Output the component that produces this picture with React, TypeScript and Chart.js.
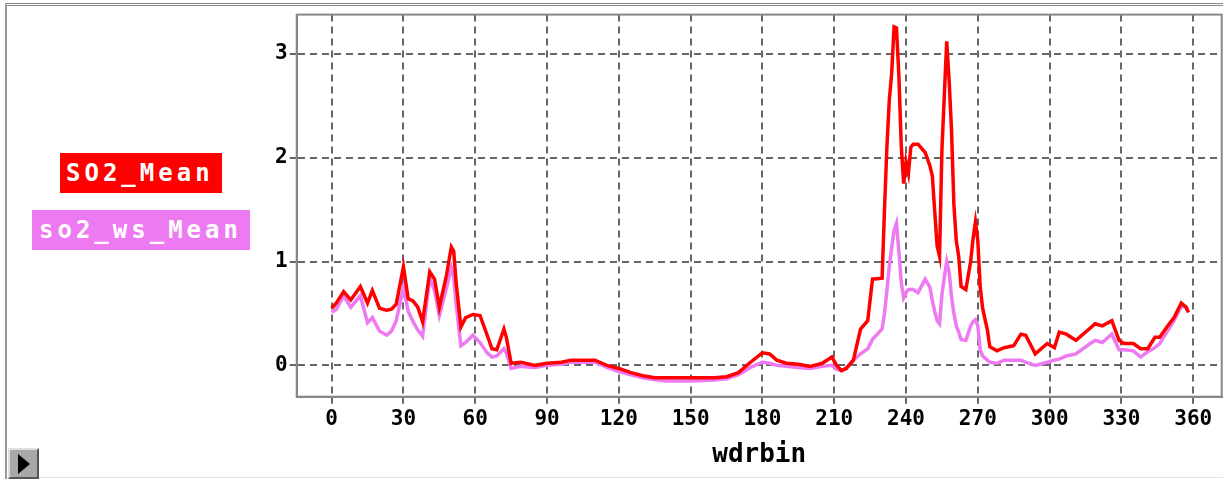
import React, { useEffect, useRef } from "react";
import { Chart, registerables } from "chart.js";

Chart.register(...registerables);

const wdrbin = [0,2,5,8,12,15,17,20,23,25,27,30,32,34,36,38,41,43,45,48,50,51,52,54,56,59,62,65,67,69,72,73,75,79,85,90,96,100,110,115,120,125,130,135,140,150,160,165,170,175,180,183,186,190,195,200,205,209,211,213,215,218,221,224,226,230,231,232,233,234,235,236,237,238,239,240,241,242,243,245,248,250,251,252,253,254,255,256,257,258,259,260,261,262,263,265,267,268,269,270,271,272,274,275,278,281,285,288,290,294,299,302,304,307,311,317,319,322,326,329,331,335,338,341,344,346,349,352,355,357,358];

const so2Mean = [0.55,0.60,0.71,0.63,0.76,0.60,0.72,0.55,0.53,0.54,0.59,0.95,0.64,0.62,0.56,0.42,0.90,0.83,0.56,0.87,1.14,1.10,0.80,0.37,0.46,0.49,0.48,0.29,0.16,0.15,0.35,0.27,0.02,0.03,0.00,0.02,0.03,0.05,0.05,0.00,-0.03,-0.07,-0.10,-0.12,-0.12,-0.12,-0.12,-0.11,-0.07,0.03,0.12,0.11,0.05,0.02,0.01,-0.01,0.02,0.08,0.00,-0.05,-0.03,0.05,0.35,0.43,0.83,0.84,1.50,2.10,2.55,2.81,3.26,3.25,2.80,2.12,1.75,1.96,1.85,2.10,2.13,2.13,2.05,1.92,1.82,1.48,1.15,1.05,2.08,2.60,3.12,2.75,2.27,1.55,1.20,1.05,0.76,0.73,1.00,1.22,1.38,1.20,0.75,0.55,0.34,0.18,0.14,0.17,0.19,0.30,0.29,0.11,0.21,0.17,0.32,0.30,0.24,0.36,0.40,0.38,0.43,0.24,0.21,0.21,0.16,0.16,0.27,0.27,0.37,0.46,0.60,0.56,0.51];

const so2WsMean = [0.51,0.54,0.67,0.56,0.67,0.41,0.46,0.33,0.29,0.33,0.43,0.75,0.52,0.42,0.34,0.28,0.84,0.72,0.48,0.75,0.94,0.85,0.60,0.19,0.22,0.29,0.22,0.12,0.08,0.09,0.16,0.12,-0.03,-0.01,-0.02,0.00,0.01,0.03,0.03,-0.02,-0.06,-0.09,-0.12,-0.14,-0.15,-0.15,-0.14,-0.13,-0.09,-0.02,0.03,0.02,0.00,-0.01,-0.02,-0.03,-0.01,0.00,-0.04,-0.05,-0.03,0.05,0.11,0.16,0.25,0.35,0.50,0.72,0.95,1.13,1.30,1.37,1.10,0.80,0.65,0.70,0.73,0.73,0.73,0.70,0.83,0.75,0.62,0.52,0.43,0.40,0.68,0.85,1.00,0.90,0.66,0.50,0.38,0.32,0.25,0.24,0.38,0.42,0.44,0.38,0.15,0.09,0.05,0.03,0.02,0.05,0.05,0.05,0.03,0.00,0.03,0.05,0.06,0.09,0.11,0.21,0.24,0.22,0.30,0.15,0.15,0.14,0.08,0.13,0.17,0.21,0.32,0.43,0.57,0.56,0.51];

const xTickValues = [0,30,60,90,120,150,180,210,240,270,300,330,360];
const yTickValues = [0,1,2,3];
const seriesLabels = ["SO2_Mean", "so2_ws_Mean"];
const xAxisTitle = "wdrbin";

const RED = "#ff0000";
const VIOLET = "#ee7af2";
const MONO = "'DejaVu Sans Mono', monospace";

export default function App() {
  const ref = useRef<HTMLCanvasElement>(null);

  useEffect(() => {
    document.body.style.margin = "0";
    const canvas = ref.current;
    if (!canvas) return;

    const framePlugin = {
      id: "plotFrame",
      beforeDatasetsDraw(chart: any) {
        const { ctx, chartArea } = chart;
        ctx.save();
        ctx.strokeStyle = "#888";
        ctx.lineWidth = 2;
        ctx.strokeRect(chartArea.left, chartArea.top, chartArea.right - chartArea.left, chartArea.bottom - chartArea.top);
        ctx.restore();
      },
    };

    const chart = new Chart(canvas, {
      type: "line",
      data: {
        datasets: [
          {
            label: seriesLabels[0],
            data: wdrbin.map((x, i) => ({ x, y: so2Mean[i] })),
            borderColor: RED,
            backgroundColor: RED,
            borderWidth: 3.5,
            pointRadius: 0,
            tension: 0,
          },
          {
            label: seriesLabels[1],
            data: wdrbin.map((x, i) => ({ x, y: so2WsMean[i] })),
            borderColor: VIOLET,
            backgroundColor: VIOLET,
            borderWidth: 3.5,
            pointRadius: 0,
            tension: 0,
          },
        ],
      },
      options: {
        responsive: false,
        animation: false,
        layout: { padding: { left: 0, top: 11, right: 1.3, bottom: 0 } },
        plugins: { legend: { display: false }, tooltip: { enabled: false } },
        scales: {
          x: {
            type: "linear",
            min: -14.6,
            max: 371.9,
            afterFit: (s: any) => { s.height = 82.3; },
            afterBuildTicks: (s: any) => { s.ticks = xTickValues.map((v) => ({ value: v })); },
            grid: { color: "#666", lineWidth: 2, tickLength: 7, tickColor: "#666", tickWidth: 2 },
            border: { display: true, color: "#888", width: 2, dash: [7, 5] },
            ticks: {
              font: { family: MONO, size: 21, weight: "bold" },
              color: "#000",
              padding: 3,
              autoSkip: false,
              maxRotation: 0,
              callback: (v: any) => String(v),
            },
            title: {
              display: true,
              text: xAxisTitle,
              color: "#000",
              font: { family: MONO, size: 26, weight: "bold" },
              padding: { top: 0, bottom: 8 },
            },
          },
          y: {
            type: "linear",
            min: -0.302,
            max: 3.378,
            afterFit: (s: any) => { s.width = 296.7; },
            afterBuildTicks: (s: any) => { s.ticks = yTickValues.map((v) => ({ value: v })); },
            grid: { color: "#666", lineWidth: 2, tickLength: 7, tickColor: "#666", tickWidth: 2 },
            border: { display: true, color: "#888", width: 2, dash: [7, 5] },
            ticks: {
              font: { family: MONO, size: 21, weight: "bold" },
              color: "#000",
              padding: 2,
              callback: (v: any) => String(v),
            },
          },
        },
      },
      plugins: [framePlugin],
    });

    return () => chart.destroy();
  }, []);

  const legendText: React.CSSProperties = {
    position: "absolute",
    fontFamily: MONO,
    fontWeight: "bold",
    fontSize: 24,
    letterSpacing: 4,
    color: "#fff",
    lineHeight: "40px",
    whiteSpace: "nowrap",
  };

  return (
    <div style={{ position: "relative", width: 1223, height: 479, overflow: "hidden", background: "#fff" }}>
      <div style={{ position: "absolute", left: 5, top: 3, width: 1240, height: 490, borderTop: "3px double #888", borderLeft: "2px solid #999" }} />
      <div style={{ position: "absolute", left: 7, top: 477, width: 1216, height: 1, background: "#e2e2e2" }} />
      <canvas ref={ref} width={1223} height={479} style={{ position: "absolute", left: 0, top: 0, width: 1223, height: 479 }} />
      <div style={{ ...legendText, left: 60, top: 153, width: 162, height: 40, background: RED, paddingLeft: 6, boxSizing: "border-box" }}>
        {seriesLabels[0]}
      </div>
      <div style={{ ...legendText, left: 32, top: 210, width: 218, height: 40, background: VIOLET, paddingLeft: 7, boxSizing: "border-box" }}>
        {seriesLabels[1]}
      </div>
      <div style={{ position: "absolute", left: 8, top: 448, width: 31, height: 31, boxSizing: "border-box", background: "#a8a8a8", borderTop: "2px solid #e0e0e0", borderLeft: "2px solid #e0e0e0", borderRight: "2px solid #555", borderBottom: "2px solid #555" }}>
        <div style={{ position: "absolute", left: 8, top: 4, width: 0, height: 0, borderTop: "10px solid transparent", borderBottom: "10px solid transparent", borderLeft: "12px solid #000" }} />
      </div>
    </div>
  );
}
